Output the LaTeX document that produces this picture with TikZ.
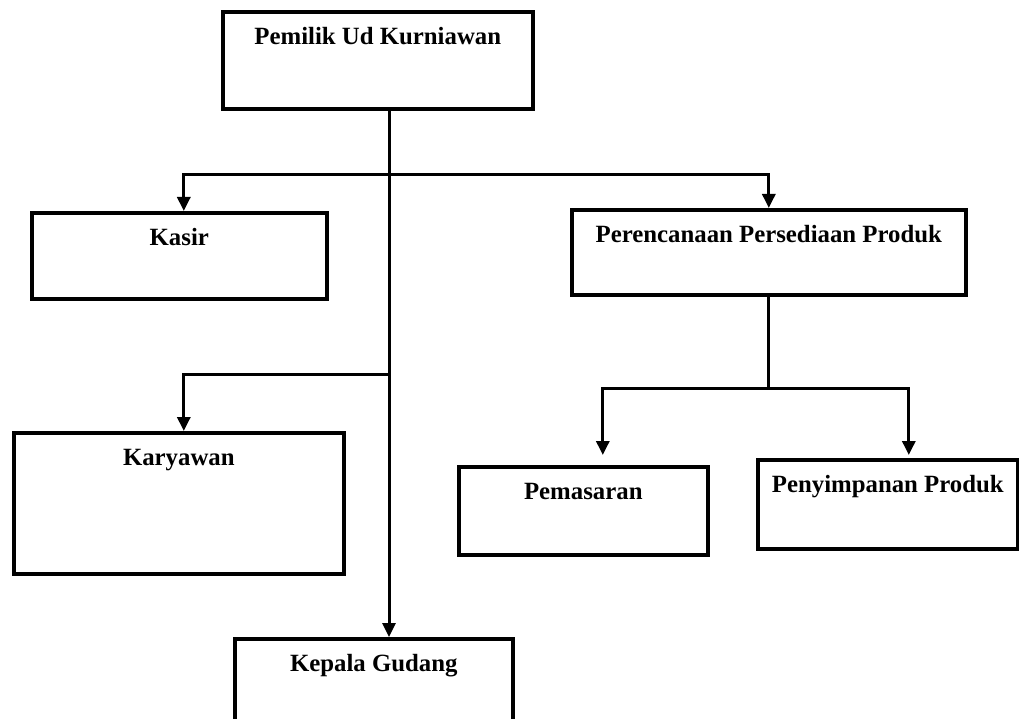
\documentclass[tikz,border=0pt]{standalone}
\usepackage{fontspec}
\setmainfont{Liberation Serif}
\usetikzlibrary{arrows.meta,calc}

\begin{document}
\begin{tikzpicture}[x=1pt, y=-1pt, >={Triangle[length=14pt,width=13pt]}, line width=3pt]
		\tikzstyle{box}=[draw=black, line width=3.6pt, rectangle, anchor=north west, inner sep=0pt, text height=33pt, font=\fontsize{24.8}{29}\selectfont\bfseries]
		\useasboundingbox (0,0) rectangle (1019,719);
		\node[box, minimum width=310pt, text depth=64pt]  (PU) at (221,10)  {Pemilik Ud Kurniawan};
		\node[box, minimum width=295pt, text depth=53pt]  (KS) at (30,211)  {Kasir};
		\node[box, minimum width=394pt, text depth=52pt]  (PP) at (570,208) {Perencanaan Persediaan Produk};
		\node[box, minimum width=330pt, text depth=108pt] (KY) at (12,431)  {Karyawan};
		\node[box, minimum width=278pt, text depth=67pt]  (KG) at (233,637) {Kepala Gudang};
		\node[box, minimum width=249pt, text depth=55pt]  (PM) at (457,465) {Pemasaran};
		\node[box, minimum width=260pt, text depth=56pt]  (PS) at (756,458) {Penyimpanan Produk};
		\coordinate (T) at (389,175);
		\coordinate (U) at (389,374);
		\coordinate (V) at ($(PP.south)+(0,92)$);
		\draw[->] (PU.south -| T) -- (KG.north -| T);
		\draw[->] (T) -| ([xshift=4.5pt]KS.north);
		\draw[->] (T) -| (PP.north);
		\draw[->] (U) -| ([xshift=5pt]KY.north);
		\draw (PP.south) -- (V);
		\draw[->, shorten >=10pt] (V) -| ([xshift=19.5pt]PM.north);
		\draw[->, shorten >=3pt] (V) -| ([xshift=21pt]PS.north);
	\end{tikzpicture}
\end{document}
